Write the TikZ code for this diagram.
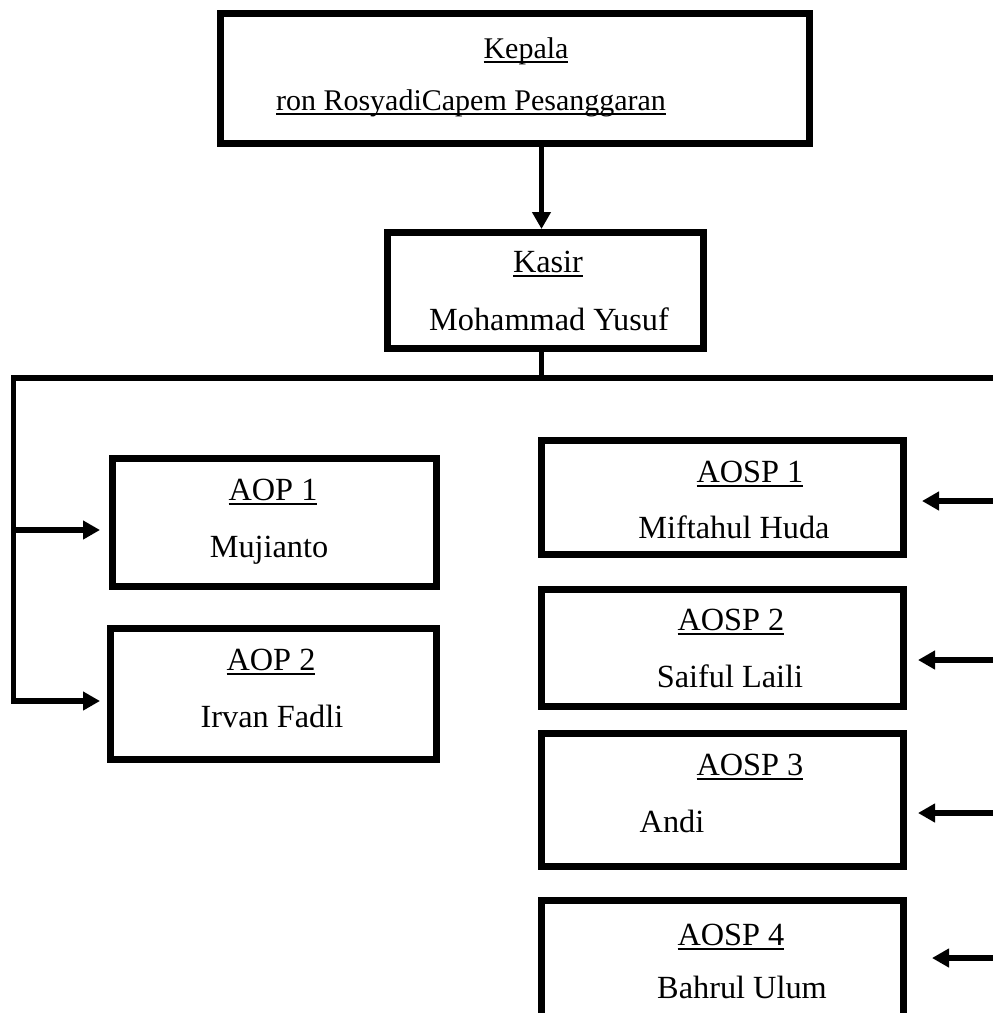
\documentclass[tikz,border=0pt]{standalone}
\usepackage{fontspec}
\setmainfont{Liberation Serif}
\usetikzlibrary{arrows.meta,calc}
\newcommand\ulx[1]{\setbox0\hbox{#1}\rlap{\rule[-5pt]{\wd0}{1.8pt}}\box0}
\begin{document}
\begin{tikzpicture}[x=1pt,y=-1pt,
  box/.style={draw,line width=7pt,minimum width=#1,inner sep=0pt},
  txt/.style={anchor=base,inner sep=0pt,font=\fontsize{32.3}{36}\selectfont},
  toptxt/.style={anchor=base,inner sep=0pt,font=\fontsize{30}{36}\selectfont},
  conn/.style={line width=5.5pt},
  arr/.style={line width=5.5pt,line join=miter,-{Triangle[length=17pt,width=18pt]}}]
\useasboundingbox (0,0) rectangle (993,1013);
\clip (0,0) rectangle (993,1013);
% boxes
\node[box=589pt,minimum height=130pt] (top) at (515,78.5) {};
\node[box=316pt,minimum height=116pt] (kasir) at (545.5,290.5) {};
\node[box=324pt,minimum height=128pt] (aop1) at (274.5,522.5) {};
\node[box=326pt,minimum height=131pt] (aop2) at (273.5,694) {};
\node[box=362pt,minimum height=114pt] (aosp1) at (722.5,497.5) {};
\node[box=362pt,minimum height=117pt] (aosp2) at (722.5,648) {};
\node[box=362pt,minimum height=133pt] (aosp3) at (722.5,800) {};
\node[box=362pt,minimum height=160pt] (aosp4) at (722.5,980.5) {};
% texts
\node[toptxt] (t1) at (526,58) {\ulx{Kepala}};
\node[toptxt] (t2) at (471,110) {\ulx{ron RosyadiCapem Pesanggaran}};
\node[txt] (k1) at (548,272) {\ulx{Kasir}};
\node[txt] (k2) at (549,330) {Mohammad Yusuf};
\node[txt] (a1) at (273,500) {\ulx{AOP 1}};
\node[txt] (a1n) at (269,557) {Mujianto};
\node[txt] (a2) at (271,670) {\ulx{AOP 2}};
\node[txt] (a2n) at (272,727) {Irvan Fadli};
\node[txt] (s1) at (750,482) {\ulx{AOSP 1}};
\node[txt] (s1n) at (734,538) {Miftahul Huda};
\node[txt] (s2) at (731,630) {\ulx{AOSP 2}};
\node[txt] (s2n) at (730,687) {Saiful Laili};
\node[txt] (s3) at (750,775) {\ulx{AOSP 3}};
\node[txt] (s3n) at (672,832) {Andi};
\node[txt] (s4) at (731,945) {\ulx{AOSP 4}};
\node[txt] (s4n) at (742,998) {Bahrul Ulum};
% connectors
\coordinate (cx) at (541.5,378);
\coordinate (bl) at (13.5,378);
\coordinate (br) at (1005,378);
\coordinate (l1) at (13.5,530);
\coordinate (l2) at (13.5,701);
\coordinate (r1) at (1005,501);
\coordinate (r2) at (1005,660);
\coordinate (r3) at (1005,813);
\coordinate (r4) at (1005,958);
\draw[arr] (top.south -| cx) -- (kasir.north -| cx);
\draw[conn] (kasir.south -| cx) -- (cx);
\draw[arr,shorten >=7pt] (br) -- (bl) -- (l2) -- (l2 -| aop2.west);
\draw[arr,shorten >=9pt] (l1) -- (l1 -| aop1.west);
\draw[arr,shorten >=15pt] (r1) -- (r1 -| aosp1.east);
\draw[arr,shorten >=11pt] (r2) -- (r2 -| aosp2.east);
\draw[arr,shorten >=11pt] (r3) -- (r3 -| aosp3.east);
\draw[arr,shorten >=25pt] (r4) -- (r4 -| aosp4.east);
\end{tikzpicture}
\end{document}
